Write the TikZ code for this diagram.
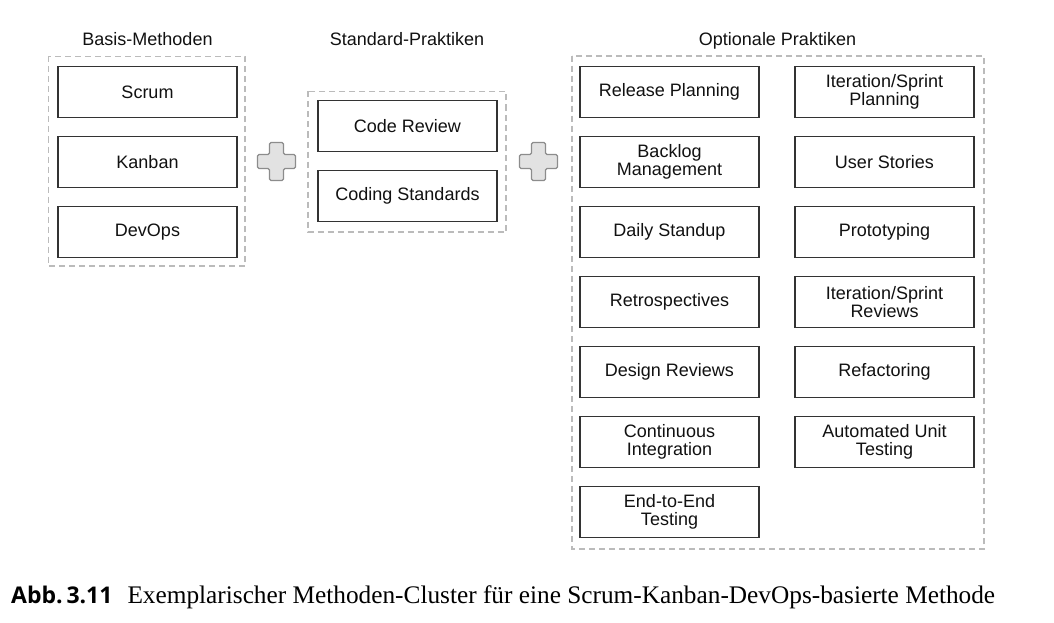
\documentclass[tikz,border=0pt]{standalone}
\usepackage{fontspec}
\setmainfont{Liberation Sans}
\newfontfamily\capserif{Liberation Serif}
\newfontfamily\capsans{Open Sans}
\definecolor{boxline}{HTML}{333333}
\definecolor{dashgray}{HTML}{BBBBBB}
\definecolor{plusfill}{HTML}{E2E2E2}
\definecolor{plusline}{HTML}{8C8C8C}
\definecolor{txt}{HTML}{111111}
\tikzset{
  practice/.style={draw=boxline, line width=1.3pt, minimum width=179pt, minimum height=51pt,
    inner sep=0pt, align=center, text=txt, font=\fontsize{18}{18}\selectfont},
  cluster/.style={draw=dashgray, line width=1.3pt, dash pattern=on 6pt off 4pt},
  grouptitle/.style={anchor=base, text=txt, font=\fontsize{18}{18}\selectfont, inner sep=0pt},
  plussign/.style={fill=plusfill, draw=plusline, line width=1.2pt, rounded corners=1.5pt}
}
\newcommand{\plusat}[2]{%
  \draw[plussign] (#1-7,#2-19) -- (#1+7,#2-19) -- (#1+7,#2-7) -- (#1+19,#2-7) -- (#1+19,#2+7)
    -- (#1+7,#2+7) -- (#1+7,#2+19) -- (#1-7,#2+19) -- (#1-7,#2+7) -- (#1-19,#2+7)
    -- (#1-19,#2-7) -- (#1-7,#2-7) -- cycle;}
\begin{document}
\begin{tikzpicture}[x=1pt,y=-1pt]
\useasboundingbox[fill=white] (0,0) rectangle (1054,623);
% clusters
\draw[cluster] (48.5,56.5) rectangle (245,266);
\draw[cluster] (308,91.5) rectangle (506,232);
\draw[cluster] (572,56) rectangle (984,549);
% titles
\node[grouptitle] (t1) at (147.5,46) {Basis-Methoden};
\node[grouptitle] (t2) at (407,46) {Standard-Praktiken};
\node[grouptitle] (t3) at (777.5,46) {Optionale Praktiken};
% basis
\node[practice] (scrum) at (147.5,92) {Scrum};
\node[practice] (kanban) at (147.5,162) {Kanban};
\node[practice] (devops) at (147.5,232) {DevOps};
% standard
\node[practice] (cr) at (407.5,126) {Code Review};
\node[practice] (cs) at (407.5,196) {Coding Standards};
% optional left
\node[practice] (rp) at (669.5,92) {Release Planning};
\node[practice] (bm) at (669.5,162) {Backlog\\Management};
\node[practice] (ds) at (669.5,232) {Daily Standup};
\node[practice] (re) at (669.5,302) {Retrospectives};
\node[practice] (dr) at (669.5,372) {Design Reviews};
\node[practice] (ci) at (669.5,442) {Continuous\\Integration};
\node[practice] (ee) at (669.5,512) {End-to-End\\Testing};
% optional right
\node[practice] (isp) at (884.5,92) {Iteration/Sprint\\Planning};
\node[practice] (us) at (884.5,162) {User Stories};
\node[practice] (pt) at (884.5,232) {Prototyping};
\node[practice] (isr) at (884.5,302) {Iteration/Sprint\\Reviews};
\node[practice] (rf) at (884.5,372) {Refactoring};
\node[practice] (aut) at (884.5,442) {Automated Unit\\Testing};
% plus signs
\plusat{276.5}{161.5}
\plusat{538.5}{161.5}
% caption
\node[anchor=base west, inner sep=0pt, text=black] (cap) at (11,603)
  {{\capsans\bfseries\fontsize{23}{24}\selectfont Abb.\,3.11}\hspace{15pt}{\capserif\fontsize{25.3}{26}\selectfont Exemplarischer Methoden-Cluster für eine Scrum-Kanban-DevOps-basierte Methode}};
\end{tikzpicture}
\end{document}
